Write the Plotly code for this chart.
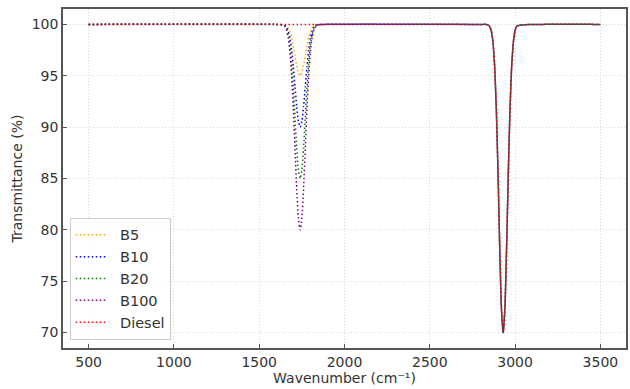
import plotly.graph_objects as go

# Wavenumber sample points (cm^-1)
wavenumber = [500, 1600, 1640, 1650, 1660, 1670, 1680, 1690, 1700, 1710, 1720, 1730,
              1740, 1750, 1760, 1770, 1780, 1790, 1800, 1810, 1820, 1830, 1840, 1880,
              2800, 2830, 2840, 2850, 2860, 2870, 2880, 2890, 2900, 2910, 2920,
              2930, 2940, 2950, 2960, 2970, 2980, 2990, 3000, 3010, 3040, 3500]

# Shared C-H stretch band around 2920
ch_band = [100, 100, 99.95, 99.82, 99.41, 98.32, 95.94, 91.66, 85.39, 78.22, 72.31, 70.0,
           72.31, 78.22, 85.39, 91.66, 95.94, 98.32, 99.41, 99.82, 99.95, 100]

b100 = [100, 100, 99.92, 99.78, 99.43, 98.69, 97.29, 95.02, 91.78, 87.86, 83.98, 81.08,
        80.0, 81.08, 83.98, 87.86, 91.78, 95.02, 97.29, 98.69, 99.43, 99.78, 99.92, 100] + ch_band
b20 = [100, 100, 99.94, 99.83, 99.57, 99.01, 97.97, 96.27, 93.84, 90.90, 87.99, 85.81,
       85.0, 85.81, 87.99, 90.90, 93.84, 96.27, 97.97, 99.01, 99.57, 99.83, 99.94, 100] + ch_band
b10 = [100, 100, 99.96, 99.89, 99.71, 99.34, 98.65, 97.51, 95.89, 93.93, 91.99, 90.54,
       90.0, 90.54, 91.99, 93.93, 95.89, 97.51, 98.65, 99.34, 99.71, 99.89, 99.96, 100] + ch_band
b5 = [100, 100, 99.98, 99.94, 99.86, 99.67, 99.32, 98.76, 97.95, 96.97, 96.00, 95.27,
      95.0, 95.27, 96.00, 96.97, 97.95, 98.76, 99.32, 99.67, 99.86, 99.94, 99.98, 100] + ch_band
diesel = [100] * 24 + ch_band

series_names = ["B5", "B10", "B20", "B100", "Diesel"]
series_values = [b5, b10, b20, b100, diesel]
series_colors = ["#FFA500", "#0000FF", "#008000", "#800080", "#FF0000"]

fig = go.Figure()
for name, vals, col in zip(series_names, series_values, series_colors):
    fig.add_trace(go.Scatter(
        x=wavenumber, y=vals, mode="lines", name="  " + name,
        line=dict(color=col, width=1.5, dash="1.5px,2.5px", shape="spline", smoothing=0.6),
    ))

axis_common = dict(
    showline=True, linecolor="#555555", linewidth=1.5, mirror=True,
    ticks="inside", ticklen=4, tickcolor="#555555", tickwidth=1,
    showgrid=True, gridcolor="#d9d9d9", griddash="1px,2px", gridwidth=1,
    zeroline=False,
    tickfont=dict(family="DejaVu Sans", size=14, color="#333333"),
    title_font=dict(family="DejaVu Sans", size=14, color="#333333"),
)

fig.update_xaxes(range=[350, 3650], tickvals=[500, 1000, 1500, 2000, 2500, 3000, 3500],
                 title_text="Wavenumber (cm⁻¹)", title_standoff=3, **axis_common)
fig.update_yaxes(range=[68.5, 101.5], tickvals=[70, 75, 80, 85, 90, 95, 100],
                 title_text="Transmittance (%)", title_standoff=6, **axis_common)

fig.update_layout(
    width=630, height=389,
    margin=dict(l=63, r=2, t=9, b=41),
    paper_bgcolor="white", plot_bgcolor="white",
    font=dict(family="DejaVu Sans", size=14, color="#333333"),
    legend=dict(x=0.012, y=0.024, xanchor="left", yanchor="bottom",
                bgcolor="rgba(255,255,255,0.8)", bordercolor="#cccccc", borderwidth=1,
                font=dict(family="DejaVu Sans", size=14.5, color="#333333"),
                itemwidth=30, tracegroupgap=0),
    showlegend=True,
)

fig.write_html("out.html")
